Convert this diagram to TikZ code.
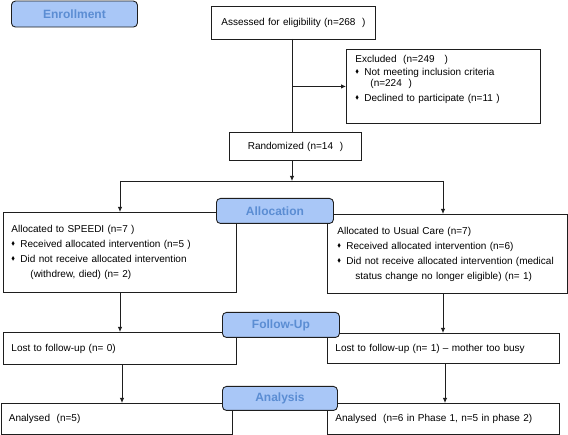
\documentclass[tikz,border=0pt]{standalone}
\usepackage{fontspec}
\setmainfont{Liberation Sans}
\usepackage{amsmath, amssymb}
\usetikzlibrary{
    arrows.meta,
    positioning
}
\definecolor{phasefill}{HTML}{A9C7F7}
\definecolor{phasetext}{HTML}{5B8DD3}
\definecolor{edgegray}{HTML}{1E1E1E}
\newcommand{\bul}{\makebox[9pt][l]{\raisebox{.3ex}{\scalebox{.55}{$\blacklozenge$}}}}

\begin{document}
\begin{tikzpicture}[x=1pt,y=-1pt,
    box/.style={draw=edgegray,line width=.9pt,anchor=north west,inner xsep=8pt,inner ysep=0pt,
        align=left,font=\fontsize{10}{11}\selectfont},
    phase/.style={draw=edgegray,line width=.9pt,fill=phasefill,rounded corners=4pt,anchor=north west,
        inner sep=0pt,text=phasetext,font=\fontsize{12}{14}\selectfont\bfseries},
    arr/.style={-{Latex[length=5pt,width=4.5pt]},line width=.9pt,draw=edgegray},
    link/.style={line width=.9pt,draw=edgegray}]
    \useasboundingbox (0,0) rectangle (568,435);

    % boxes
    \node[box,align=center,text width=148pt,minimum height=33pt] (assess) at (211,6)
        {Assessed for eligibility (n=268~~)};
    \node[box,inner xsep=9pt,text width=176pt,minimum height=74pt] (excl) at (346,49)
        {Excluded~~(n=249~~~)\\[2pt]
         \bul Not meeting inclusion criteria\\
         \hspace*{15pt}(n=224~~)\\[4pt]
         \bul Declined to participate (n=11~)\\[6pt]\mbox{}};
    \node[box,align=center,text width=116pt,minimum height=28pt] (rand) at (229,132)
        {Randomized (n=14~~)};
    \node[box,text width=217pt,minimum height=80pt] (speedi) at (3,212)
        {Allocated to SPEEDI (n=7~)\\[4pt]
         \bul Received allocated intervention (n=5~)\\[4pt]
         \bul Did not receive allocated intervention\\[4pt]
         \hspace*{19pt}(withdrew, died) (n=~2)};
    \node[box,inner xsep=10pt,text width=220pt,minimum height=79pt] (usual) at (327,214)
        {Allocated to Usual Care (n=7)\\[4pt]
         \bul Received allocated intervention (n=6)\\[4pt]
         \mbox{\bul Did not receive allocated intervention (medical}\\[4pt]
         \hspace*{18pt}status change no longer eligible) (n=~1)};
    \node[box,text width=217pt,minimum height=32pt] (lostA) at (3,332)
        {Lost to follow-up (n=~0)};
    \node[box,text width=216pt,minimum height=30pt] (lostB) at (327,333)
        {Lost to follow-up (n=~1) -- mother too busy};
    \node[box,text width=215pt,minimum height=31pt] (anaA) at (.5,403)
        {Analysed~~(n=5)};
    \node[box,text width=216pt,minimum height=31pt] (anaB) at (327,403)
        {Analysed~~(n=6 in Phase 1, n=5 in phase 2)};

    % phase labels
    \node[phase,minimum width=126pt,minimum height=26pt] (enroll) at (11,.6) {Enrollment};
    \node[phase,minimum width=117pt,minimum height=25pt] (alloc) at (216,198) {Allocation};
    \node[phase,minimum width=117pt,minimum height=25pt] (follow) at (222,312) {Follow-Up};
    \node[phase,minimum width=115pt,minimum height=24pt] (analysis) at (222,386) {Analysis};

    % connectors
    \coordinate (trunk) at (292,39);
    \coordinate (split) at (292,181);
    \coordinate (splitL) at (120,181);
    \coordinate (splitR) at (443,181);
    \draw[link] (trunk) -- (trunk |- rand.north);
    \draw[arr] (trunk |- excl.west) -- (excl.west);
    \draw[arr] (split |- rand.south) -- (split);
    \draw[link] (splitL) -- (splitR);
    \draw[arr] (splitL) -- (splitL |- speedi.north);
    \draw[arr] (splitR) -- (splitR |- usual.north);
    \draw[arr] (splitL |- speedi.south) -- (splitL |- lostA.north);
    \draw[arr] (splitR |- usual.south) -- (splitR |- lostB.north);
    \draw[arr] ([xshift=2pt]splitL |- lostA.south) -- ([xshift=2pt]splitL |- anaA.north);
    \draw[arr] ([xshift=2pt]splitR |- lostB.south) -- ([xshift=2pt]splitR |- anaB.north);
\end{tikzpicture}
\end{document}
